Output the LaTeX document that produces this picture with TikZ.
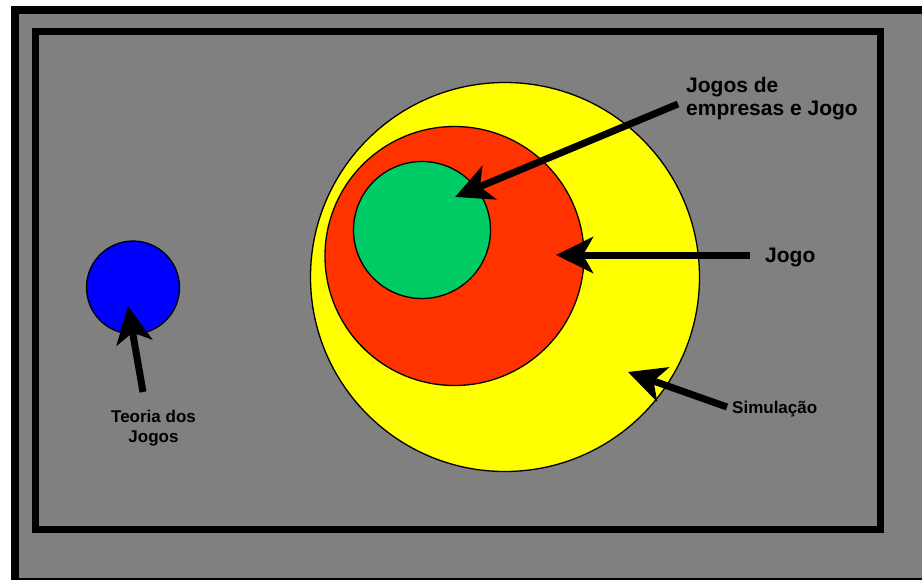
\documentclass[tikz,border=0pt]{standalone}
\usepackage{fontspec}
\setmainfont{Liberation Sans}
\usetikzlibrary{arrows.meta}
\definecolor{simyellow}{RGB}{255,255,0}
\definecolor{jogored}{RGB}{255,51,0}
\definecolor{empgreen}{RGB}{0,204,102}
\definecolor{teoblue}{RGB}{0,0,255}
\definecolor{bggray}{RGB}{128,128,128}

\begin{document}
\begin{tikzpicture}[
  x=1pt,y=-1pt,
  region/.style={draw,circle,line width=1.3pt,inner sep=0pt},
  pointer/.style={line width=7pt,-{Stealth[length=37pt,width=36pt,inset=10pt]}},
  bigcaption/.style={font=\fontsize{21}{23}\selectfont\bfseries,inner sep=0pt},
  smallcaption/.style={font=\fontsize{17}{20}\selectfont\bfseries,inner sep=0pt}
]
  \useasboundingbox (0,0) rectangle (922,579);
  \clip (0,0) rectangle (922,579);
  \fill[white] (0,0) rectangle (922,579);
  % frames
  \draw[line width=8pt,fill=bggray] (14.5,10) rectangle (940,582);
  \draw[line width=7pt] (35.5,31.5) rectangle (880.5,529.5);

  % sets
  \node[region,fill=teoblue,minimum size=93pt] (teoria) at (133,287.5) {};
  \node[region,fill=simyellow,minimum size=389pt] (sim) at (505,277) {};
  \node[region,fill=jogored,minimum size=259pt] (jogo) at (454.5,256) {};
  \node[region,fill=empgreen,minimum size=137pt] (emp) at (422,230) {};

  % labels
  \node[bigcaption,anchor=north west,align=left] (empl) at (686,77) {Jogos de\\empresas e Jogo};
  \node[bigcaption,anchor=base west] (jogol) at (765,262) {Jogo};
  \node[smallcaption,anchor=base west] (siml) at (732,413) {Simulação};
  \node[smallcaption,anchor=north,align=center] (teol) at (153.5,410) {Teoria dos\\Jogos};

  % pointers
  \coordinate (empt) at (678,104);
  \coordinate (emph) at (455,197);
  \coordinate (jogot) at (750,255);
  \coordinate (jogoh) at (556,255);
  \coordinate (simt) at (727,407);
  \coordinate (simh) at (628,372);
  \coordinate (teot) at (143,392);
  \coordinate (teoh) at (128,306);
  \draw[pointer] (empt) -- (emph);
  \draw[pointer] (jogot) -- (jogoh);
  \draw[pointer] (simt) -- (simh);
  \draw[pointer] (teot) -- (teoh);
\end{tikzpicture}
\end{document}
